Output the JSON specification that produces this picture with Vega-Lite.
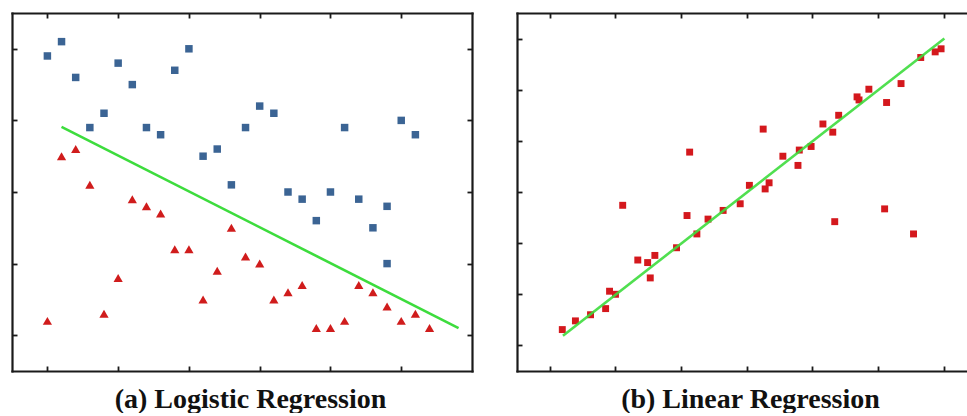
{
  "$schema": "https://vega.github.io/schema/vega-lite/v6.json",
  "padding": {"left": 11, "top": 12, "right": 0, "bottom": 0},
  "background": "white",
  "config": {
    "view": {"stroke": null},
    "concat": {"spacing": 43},
    "axis": {
      "grid": false,
      "labels": false,
      "domainColor": "#1a1a1a",
      "domainWidth": 2.2,
      "domainCap": "square",
      "tickColor": "#1a1a1a",
      "tickWidth": 1.8,
      "tickSize": -5,
      "titleFont": "Liberation Serif",
      "titleFontWeight": "bold",
      "titleFontSize": 28,
      "titleColor": "#111111"
    }
  },
  "datasets": {
    "blue": [
      {"x": 1.0, "y": 4.9}, {"x": 1.2, "y": 5.1}, {"x": 1.4, "y": 4.6}, {"x": 1.6, "y": 3.9},
      {"x": 1.8, "y": 4.1}, {"x": 2.0, "y": 4.8}, {"x": 2.2, "y": 4.5}, {"x": 2.4, "y": 3.9},
      {"x": 2.6, "y": 3.8}, {"x": 2.8, "y": 4.7}, {"x": 3.0, "y": 5.0}, {"x": 3.2, "y": 3.5},
      {"x": 3.4, "y": 3.6}, {"x": 3.6, "y": 3.1}, {"x": 3.8, "y": 3.9}, {"x": 4.0, "y": 4.2},
      {"x": 4.2, "y": 4.1}, {"x": 4.4, "y": 3.0}, {"x": 4.6, "y": 2.9}, {"x": 4.8, "y": 2.6},
      {"x": 5.0, "y": 3.0}, {"x": 5.2, "y": 3.9}, {"x": 5.4, "y": 2.9}, {"x": 5.6, "y": 2.5},
      {"x": 5.8, "y": 2.8}, {"x": 5.8, "y": 2.0}, {"x": 6.0, "y": 4.0}, {"x": 6.2, "y": 3.8}
    ],
    "redtri": [
      {"x": 1.0, "y": 1.2}, {"x": 1.2, "y": 3.5}, {"x": 1.4, "y": 3.6}, {"x": 1.6, "y": 3.1},
      {"x": 1.8, "y": 1.3}, {"x": 2.0, "y": 1.8}, {"x": 2.2, "y": 2.9}, {"x": 2.4, "y": 2.8},
      {"x": 2.6, "y": 2.7}, {"x": 2.8, "y": 2.2}, {"x": 3.0, "y": 2.2}, {"x": 3.2, "y": 1.5},
      {"x": 3.4, "y": 1.9}, {"x": 3.6, "y": 2.5}, {"x": 3.8, "y": 2.1}, {"x": 4.0, "y": 2.0},
      {"x": 4.2, "y": 1.5}, {"x": 4.4, "y": 1.6}, {"x": 4.6, "y": 1.7}, {"x": 4.8, "y": 1.1},
      {"x": 5.0, "y": 1.1}, {"x": 5.2, "y": 1.2}, {"x": 5.4, "y": 1.7}, {"x": 5.6, "y": 1.6},
      {"x": 5.8, "y": 1.4}, {"x": 6.0, "y": 1.2}, {"x": 6.2, "y": 1.3}, {"x": 6.4, "y": 1.1}
    ],
    "logline": [{"x": 1.2, "y": 3.91}, {"x": 6.81, "y": 1.1}],
    "linpts": [
      {"x": 0.19, "y": 0.31}, {"x": 0.39, "y": 0.48}, {"x": 0.62, "y": 0.6}, {"x": 0.85, "y": 0.72},
      {"x": 0.91, "y": 1.06}, {"x": 1.0, "y": 1.0}, {"x": 1.11, "y": 2.74}, {"x": 1.34, "y": 1.67},
      {"x": 1.49, "y": 1.62}, {"x": 1.53, "y": 1.32}, {"x": 1.6, "y": 1.76}, {"x": 1.93, "y": 1.91},
      {"x": 2.09, "y": 2.54}, {"x": 2.13, "y": 3.78}, {"x": 2.24, "y": 2.18}, {"x": 2.41, "y": 2.47},
      {"x": 2.64, "y": 2.64}, {"x": 2.9, "y": 2.77}, {"x": 3.04, "y": 3.13}, {"x": 3.25, "y": 4.23},
      {"x": 3.28, "y": 3.06}, {"x": 3.34, "y": 3.18}, {"x": 3.55, "y": 3.7}, {"x": 3.78, "y": 3.52},
      {"x": 3.8, "y": 3.82}, {"x": 3.98, "y": 3.89}, {"x": 4.16, "y": 4.33}, {"x": 4.31, "y": 4.17},
      {"x": 4.34, "y": 2.42}, {"x": 4.4, "y": 4.5}, {"x": 4.68, "y": 4.86}, {"x": 4.71, "y": 4.8},
      {"x": 4.86, "y": 5.01}, {"x": 5.1, "y": 2.67}, {"x": 5.13, "y": 4.75}, {"x": 5.35, "y": 5.12},
      {"x": 5.54, "y": 2.18}, {"x": 5.65, "y": 5.63}, {"x": 5.87, "y": 5.74}, {"x": 5.96, "y": 5.8}
    ],
    "linline": [{"x": 0.2, "y": 0.19}, {"x": 6.01, "y": 6.0}]
  },
  "hconcat": [
    {
      "width": 460,
      "height": 358,
      "layer": [
        {
          "data": {"name": "blue"},
          "mark": {"type": "point", "shape": "square", "filled": true, "color": "#3b6494", "size": 56, "opacity": 1},
          "encoding": {
            "x": {"field": "x", "type": "quantitative", "scale": {"domain": [0.5, 7.0], "nice": false, "zero": false},
                  "axis": {"orient": "bottom", "values": [1, 2, 3, 4, 5, 6], "title": "(a) Logistic Regression", "titleX": 238, "titleY": 36, "titleAlign": "center", "titleBaseline": "alphabetic", "titleAnchor": null}},
            "y": {"field": "y", "type": "quantitative", "scale": {"domain": [0.5, 5.5], "nice": false, "zero": false},
                  "axis": {"orient": "left", "values": [1, 2, 3, 4, 5], "title": null}}
          }
        },
        {
          "data": {"name": "redtri"},
          "mark": {"type": "point", "shape": "triangle-up", "filled": true, "color": "#d01c1c", "size": 85, "opacity": 1},
          "encoding": {
            "x": {"field": "x", "type": "quantitative", "axis": {"orient": "top", "values": [1, 2, 3, 4, 5, 6], "title": null}},
            "y": {"field": "y", "type": "quantitative", "axis": {"orient": "right", "values": [1, 2, 3, 4, 5], "title": null}}
          }
        },
        {
          "data": {"name": "logline"},
          "mark": {"type": "line", "color": "#3ddc3d", "strokeWidth": 2.6},
          "encoding": {
            "x": {"field": "x", "type": "quantitative", "axis": null},
            "y": {"field": "y", "type": "quantitative", "axis": null}
          }
        }
      ],
      "resolve": {"axis": {"x": "independent", "y": "independent"}}
    },
    {
      "width": 451,
      "height": 358,
      "layer": [
        {
          "data": {"name": "linpts"},
          "mark": {"type": "point", "shape": "square", "filled": true, "color": "#d4181d", "size": 48, "opacity": 1},
          "encoding": {
            "x": {"field": "x", "type": "quantitative", "scale": {"domain": [-0.5, 6.37], "nice": false, "zero": false},
                  "axis": {"orient": "bottom", "values": [0, 1, 2, 3, 4, 5, 6], "title": "(b) Linear Regression", "titleX": 233, "titleY": 36, "titleAlign": "center", "titleBaseline": "alphabetic", "titleAnchor": null}},
            "y": {"field": "y", "type": "quantitative", "scale": {"domain": [-0.5, 6.5], "nice": false, "zero": false},
                  "axis": {"orient": "left", "values": [0, 1, 2, 3, 4, 5, 6], "title": null}}
          }
        },
        {
          "data": {"name": "linline"},
          "mark": {"type": "line", "color": "#3ddc3d", "strokeWidth": 2.6, "opacity": 0.9},
          "encoding": {
            "x": {"field": "x", "type": "quantitative", "axis": {"orient": "top", "values": [0, 1, 2, 3, 4, 5, 6], "title": null}},
            "y": {"field": "y", "type": "quantitative", "axis": null}
          }
        }
      ],
      "resolve": {"axis": {"x": "independent", "y": "independent"}}
    }
  ]
}
